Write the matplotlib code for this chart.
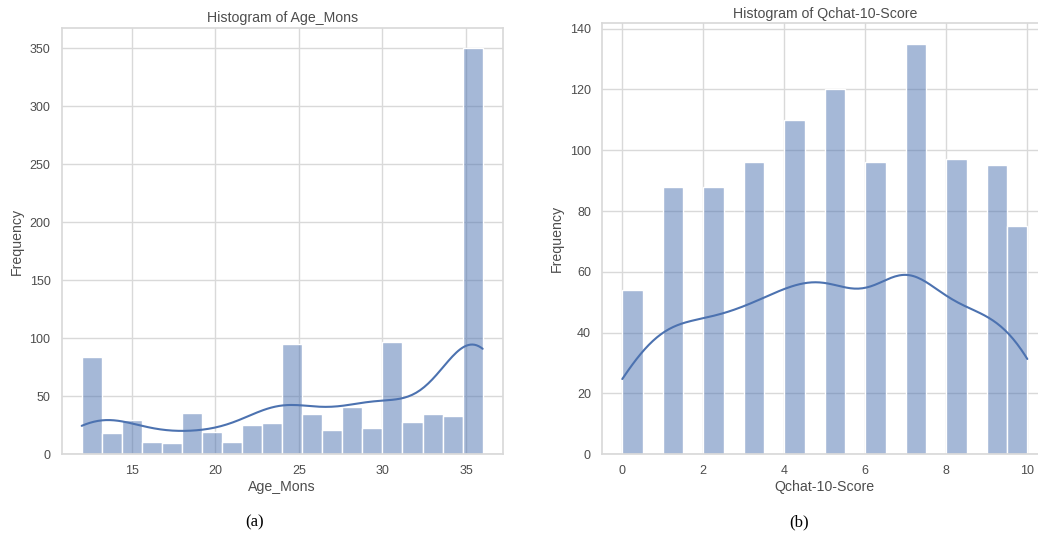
import numpy as np
import matplotlib
matplotlib.use("Agg")
import matplotlib.pyplot as plt
import seaborn as sns

# ---- data ----
age_values = [12, 13, 14, 15, 16, 17, 18, 19, 20, 21, 22, 23, 24, 25,
              26, 27, 28, 29, 30, 31, 32, 33, 34, 35, 36]
age_counts = [40, 44, 18, 30, 11, 10, 20, 16, 19, 11, 25, 27, 80, 15,
              35, 21, 41, 23, 80, 17, 28, 35, 33, 100, 250]

qchat_values = [0, 1, 2, 3, 4, 5, 6, 7, 8, 9, 10]
qchat_counts = [54, 88, 88, 96, 110, 120, 96, 135, 97, 95, 75]

age_data = np.repeat(age_values, age_counts)
qchat_data = np.repeat(qchat_values, qchat_counts)

sns.set_theme(style="whitegrid")
plt.rcParams['font.family'] = ['Liberation Sans', 'DejaVu Sans']
plt.rcParams['axes.edgecolor'] = '0.85'
plt.rcParams['grid.color'] = '0.85'

fig = plt.figure(figsize=(10.38, 5.42), dpi=100)
ax1 = fig.add_axes([0.0594, 0.1618, 0.4249, 0.7865])
ax2 = fig.add_axes([0.580, 0.1618, 0.4292, 0.7952])

tick_fs = 9
lab_fs = 10.2
title_fs = 10.2
txt_col = '0.3'

sns.histplot(x=age_data, bins=20, kde=True, ax=ax1)
ax1.set_title("Histogram of Age_Mons", fontsize=title_fs, color=txt_col, pad=4)
ax1.set_xlabel("Age_Mons", fontsize=lab_fs, color=txt_col, labelpad=2)
ax1.set_ylabel("Frequency", fontsize=lab_fs, color=txt_col)
ax1.set_xticks([15, 20, 25, 30, 35])
ax1.set_yticks([0, 50, 100, 150, 200, 250, 300, 350])

sns.histplot(x=qchat_data, bins=20, kde=True, ax=ax2)
ax2.set_title("Histogram of Qchat-10-Score", fontsize=title_fs, color=txt_col, pad=4)
ax2.set_xlabel("Qchat-10-Score", fontsize=lab_fs, color=txt_col, labelpad=2)
ax2.set_ylabel("Frequency", fontsize=lab_fs, color=txt_col)
ax2.set_xticks([0, 2, 4, 6, 8, 10])
ax2.set_yticks([0, 20, 40, 60, 80, 100, 120, 140])

for ax in (ax1, ax2):
    ax.tick_params(labelsize=tick_fs, colors=txt_col, pad=2)
    for s in ax.spines.values():
        s.set_color('0.85')

fig.text(0.2457, 0.022, "(a)", fontsize=12, family=['Liberation Serif', 'DejaVu Serif'],
         ha='center', va='bottom', color='black')
fig.text(0.770, 0.022, "(b)", fontsize=12, family=['Liberation Serif', 'DejaVu Serif'],
         ha='center', va='bottom', color='black')

fig.savefig("out.png", dpi=100)
